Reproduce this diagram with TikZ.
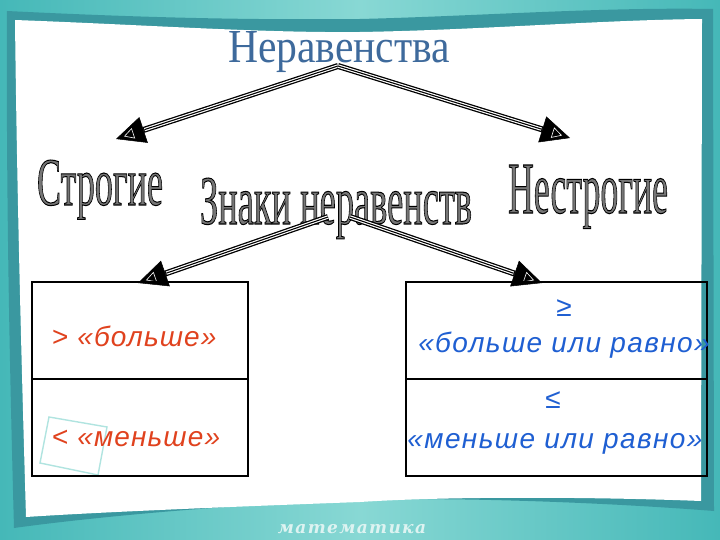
\documentclass[tikz,border=0pt]{standalone}
\usepackage{fontspec}
\usepackage{graphicx}
\setmainfont{Liberation Serif}
\newfontfamily\sansf{Liberation Sans}
\newfontfamily\footf{DejaVu Serif}
\usetikzlibrary{arrows.meta,decorations.markings}
\definecolor{tealbg}{HTML}{45B8B8}
\definecolor{teallight}{HTML}{88D8D4}
\definecolor{tealdark}{HTML}{3A98A0}
\definecolor{titleblue}{HTML}{3E6A9C}
\definecolor{redtxt}{HTML}{E0421E}
\definecolor{bluetxt}{HTML}{1F5FD2}
\definecolor{footc}{HTML}{DDF3F1}
\definecolor{decosq}{HTML}{B0E4E0}
\definecolor{waGray}{HTML}{767676}
\newcommand{\outlinetext}[1]{\special{pdf:literal direct 2 Tr 0.9 w 0 0 0 RG}#1\special{pdf:literal direct 0 Tr}}
\newcommand{\wordart}[3]{\resizebox{#1pt}{#2pt}{\outlinetext{#3}}}
\begin{document}
\begin{tikzpicture}[x=1pt,y=-1pt,
  wa/.style={inner sep=0pt, anchor=base, text=waGray, font=\fontsize{60}{60}\selectfont},
  ttl/.style={inner sep=0pt, anchor=base, text=titleblue, font=\fontsize{44}{44}\selectfont},
  cell/.style={draw=black, line width=2pt, minimum width=#1, minimum height=97pt, inner sep=0pt, anchor=north west},
  redt/.style={inner sep=0pt, anchor=base west, text=redtxt, font=\sansf\itshape\fontsize{28}{28}\selectfont\addfontfeature{LetterSpace=4}},
  bluet/.style={inner sep=0pt, anchor=base, text=bluetxt, font=\sansf\itshape\fontsize{28}{28}\selectfont\addfontfeature{LetterSpace=5}},
  foot/.style={inner sep=0pt, anchor=base, text=footc, font=\footf\bfseries\itshape\fontsize{17}{17}\selectfont\addfontfeature{LetterSpace=8}},
  dbl/.style={line width=6pt, draw=black,
    -{Triangle[length=29pt,width=27pt,line width=0.5pt]},
    postaction={draw=white, line width=3.4pt, -, shorten >=30pt},
    postaction={draw=black, line width=1.1pt, -, shorten >=30pt},
    postaction={decorate, decoration={markings, mark=at position -13pt with
      {\draw[white, line width=0.6pt] (-5,-5) -- (4,0) -- (-5,5) -- cycle;}}}}]
\useasboundingbox (0,0) rectangle (720,540);
% background
\shade[left color=tealbg, right color=tealbg, middle color=teallight] (0,0) rectangle (720,540);
\fill[tealdark] (7,11) .. controls (150,18) and (250,20) .. (360,19) .. controls (480,16) and (600,7) .. (713,9)
  -- (714,511) .. controls (600,502) and (450,497) .. (360,500) .. controls (250,503) and (100,516) .. (14,528)
  .. controls (10,380) and (6,200) .. cycle;
\fill[white] (15,20) .. controls (150,25) and (260,33) .. (360,32) .. controls (480,30) and (600,20) .. (702,19)
  -- (701,501) .. controls (600,497) and (450,496) .. (360,502) .. controls (250,506) and (100,512) .. (26,517)
  .. controls (22,380) and (17,200) .. cycle;
% decorative square
\draw[decosq, line width=1.4pt] (49,417) -- (107,427) -- (98,475) -- (40,463) -- cycle;
% titles
\node[ttl] (ner) at (339,63) {\resizebox{222pt}{31pt}{Неравенства}};
\node[wa] (str) at (100,205) {\wordart{126}{45}{Строгие}};
\node[wa] (zn) at (336,224) {\wordart{272}{46}{Знаки неравенств}};
\node[wa] (nstr) at (588,213) {\wordart{160}{48}{Нестрогие}};
% arrow ends
\coordinate (a0) at (338,66);
\coordinate (tL) at (116,139);
\coordinate (tR) at (570,138);
\coordinate (b1) at (328,217);
\coordinate (b2) at (350,217);
\coordinate (uL) at (138,283);
\coordinate (uR) at (542,283);
\draw[dbl] (a0) -- (tL);
\draw[dbl] (a0) -- (tR);
\draw[dbl] (b1) -- (uL);
\draw[dbl] (b2) -- (uR);
% boxes
\node[cell=216pt] (l1) at (31,281) {};
\node[cell=216pt] (l2) at (31,378) {};
\node[cell=301pt] (r1) at (405,281) {};
\node[cell=301pt] (r2) at (405,378) {};
% texts
\node[redt] (gt) at (52,346) {{\upshape >} «больше»};
\node[redt] (lt) at (52,446) {{\upshape <} «меньше»};
\node[bluet] (ge) at (564,316) {≥};
\node[bluet] (get) at (564,352) {«больше или равно»};
\node[bluet] (le) at (553,408) {≤};
\node[bluet] (let) at (555,448) {«меньше или равно»};
\node[foot] (ft) at (352,533) {математика};
\end{tikzpicture}
\end{document}
